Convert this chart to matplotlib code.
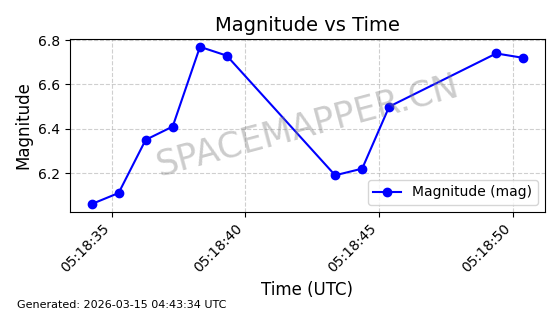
import matplotlib
matplotlib.use('Agg')
import matplotlib.pyplot as plt
import matplotlib.dates as mdates
import pandas as pd

# observation times (UTC) and magnitudes
times = ['05:18:34.25', '05:18:35.26', '05:18:36.27', '05:18:37.28', '05:18:38.30',
         '05:18:39.30', '05:18:43.35', '05:18:44.36', '05:18:45.37', '05:18:49.37',
         '05:18:50.38']
mags = [6.06, 6.11, 6.35, 6.41, 6.77, 6.73, 6.19, 6.22, 6.50, 6.74, 6.72]

t = pd.to_datetime(['2026-03-15 ' + s for s in times])

fig = plt.figure(figsize=(5.6, 3.14), dpi=100)
ax = fig.add_axes([0.125, 0.325, 0.848, 0.551])

ax.plot(t, mags, 'o-', color='blue', markersize=6, linewidth=1.5, label='Magnitude (mag)')
ax.set_title('Magnitude vs Time', fontsize=14)
ax.set_xlabel('Time (UTC)', fontsize=12)
ax.set_ylabel('Magnitude', fontsize=12)
ax.grid(True, linestyle='--', alpha=0.6)
ax.legend(loc='lower right', fontsize=10)

ax.xaxis.set_major_locator(mdates.SecondLocator(bysecond=range(0, 60, 5)))
ax.xaxis.set_major_formatter(mdates.DateFormatter('%H:%M:%S'))
plt.setp(ax.get_xticklabels(), rotation=45, ha='right')

# watermark
ax.text(0.5, 0.5, 'SPACEMAPPER.CN', transform=ax.transAxes, fontsize=25,
        color='gray', alpha=0.4, rotation=15, ha='center', va='center')

fig.text(0.03, 0.02, 'Generated: 2026-03-15 04:43:34 UTC', fontsize=8)

fig.savefig('out.png', dpi=100)
